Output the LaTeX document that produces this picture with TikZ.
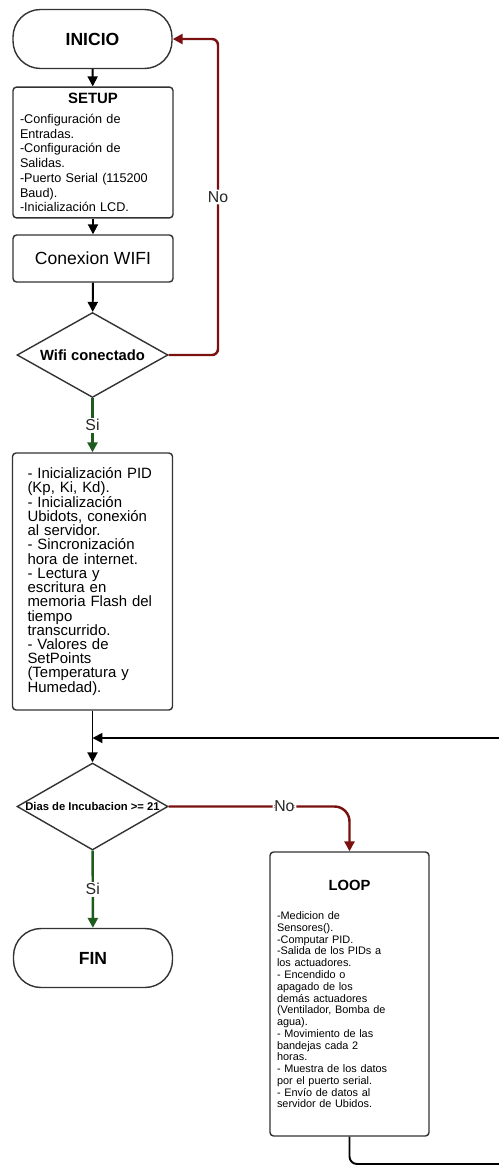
\documentclass[tikz,border=0pt]{standalone}
\usepackage{fontspec}
\setmainfont{Liberation Sans}
\usetikzlibrary{arrows.meta,shapes.geometric}
\definecolor{noRed}{HTML}{7A1010}
\definecolor{siGreen}{HTML}{1E5C1E}
\definecolor{boxLine}{HTML}{333333}
\setlength{\lineskiplimit}{-5pt}
\begin{document}
\begin{tikzpicture}[x=0.02cm,y=-0.02cm,
  box/.style={draw=boxLine, line width=0.8pt, rounded corners=0.07cm, fill=white},
  term/.style={draw=boxLine, line width=0.8pt, rounded corners=0.55cm, minimum width=3.18cm, minimum height=1.18cm, font=\fontsize{10}{12}\selectfont\bfseries},
  dec/.style={draw=boxLine, line width=0.8pt, diamond, minimum width=3.02cm, inner sep=0pt},
  flow/.style={line width=1.1pt, draw=black, -{Triangle[length=0.2cm,width=0.2cm]}},
  noflow/.style={flow, draw=noRed, line width=1.4pt},
  siflow/.style={flow, draw=siGreen, line width=1.4pt},
  lbl/.style={fill=white, inner sep=1pt, font=\fontsize{9}{10}\selectfont, text=black!85}
]
\useasboundingbox (0,0) rectangle (498,1167);

\node[term] (ini) at (92.5,39) {INICIO};
\node[box, minimum width=3.2cm, minimum height=2.38cm, text width=2.92cm, inner xsep=0.14cm, align=left, font=\fontsize{7.2}{8.4}\selectfont] (setup) at (93,152.5)
  {{\centering\fontsize{8.5}{10}\selectfont\bfseries SETUP\par}\vspace{3pt}-Configuración de\\Entradas.\\-Configuración de\\Salidas.\\-Puerto Serial (115200\\Baud).\\-Inicialización LCD.};
\node[box, minimum width=3.2cm, minimum height=0.94cm, font=\fontsize{10}{12}\selectfont] (wifi) at (93,258.5) {Conexion WIFI};
\node[dec, minimum height=1.7cm] (d1) at (92.5,355) {};
\node[font=\fontsize{8.4}{10}\selectfont\bfseries] (d1t) at (d1) {Wifi conectado};
\node[box, minimum width=3.2cm, minimum height=5.14cm, text width=2.6cm, inner xsep=0.3cm, align=left, font=\fontsize{8.5}{8.1}\selectfont] (init) at (92.5,581.5)
  {- Inicialización PID\\(Kp, Ki, Kd).\\- Inicialización\\Ubidots, conexión\\al servidor.\\- Sincronización\\hora de internet.\\- Lectura y\\escritura en\\memoria Flash del\\tiempo\\transcurrido.\\- Valores de\\SetPoints\\(Temperatura y\\Humedad).};
\node[dec, minimum height=1.74cm] (d2) at (92.5,806.5) {};
\node[font=\fontsize{6.4}{7}\selectfont\bfseries] (d2t) at (d2) {Dias de Incubacion >= 21};
\node[term] (fin) at (93,958) {FIN};
\node[box, minimum width=3.18cm, minimum height=5.68cm, text width=2.9cm, inner xsep=0.14cm, align=left, font=\fontsize{6.2}{6.7}\selectfont] (loop) at (349.5,994)
  {{\centering\fontsize{8.4}{10}\selectfont\bfseries LOOP\par}\vspace{10pt}-Medicion de\\Sensores().\\-Computar PID.\\-Salida de los PIDs a\\los actuadores.\\- Encendido o\\apagado de los\\demás actuadores\\(Ventilador, Bomba de\\agua).\\- Movimiento de las\\bandejas cada 2\\horas.\\- Muestra de los datos\\por el puerto serial.\\- Envío de datos al\\servidor de Ubidos.};

\coordinate (nr1) at (218,355);
\coordinate (nr2) at (218,39);
\coordinate (m) at (92.5,738);
\coordinate (lb) at (349.5,1164);
\coordinate (rb) at (510,1164);
\coordinate (rt) at (510,738);

\draw[flow] (ini) -- (setup);
\draw[flow] (setup) -- (wifi);
\draw[flow] (wifi) -- (d1);
\draw[noflow, rounded corners=0.12cm] (d1.east) -- (nr1) -- node[lbl]{No} (nr2) -- (ini.east);
\draw[siflow] (d1) -- node[lbl]{Si} (init);
\draw[flow] (init) -- (d2);
\draw[flow, rounded corners=0.15cm] (loop.south) -- (lb) -- (rb) -- (rt) -- (m);
\draw[noflow, rounded corners=0.3cm] (d2.east) -| node[lbl, pos=0.32]{No} (loop.north);
\draw[siflow] (d2) -- node[lbl]{Si} (fin);
\end{tikzpicture}
\end{document}
